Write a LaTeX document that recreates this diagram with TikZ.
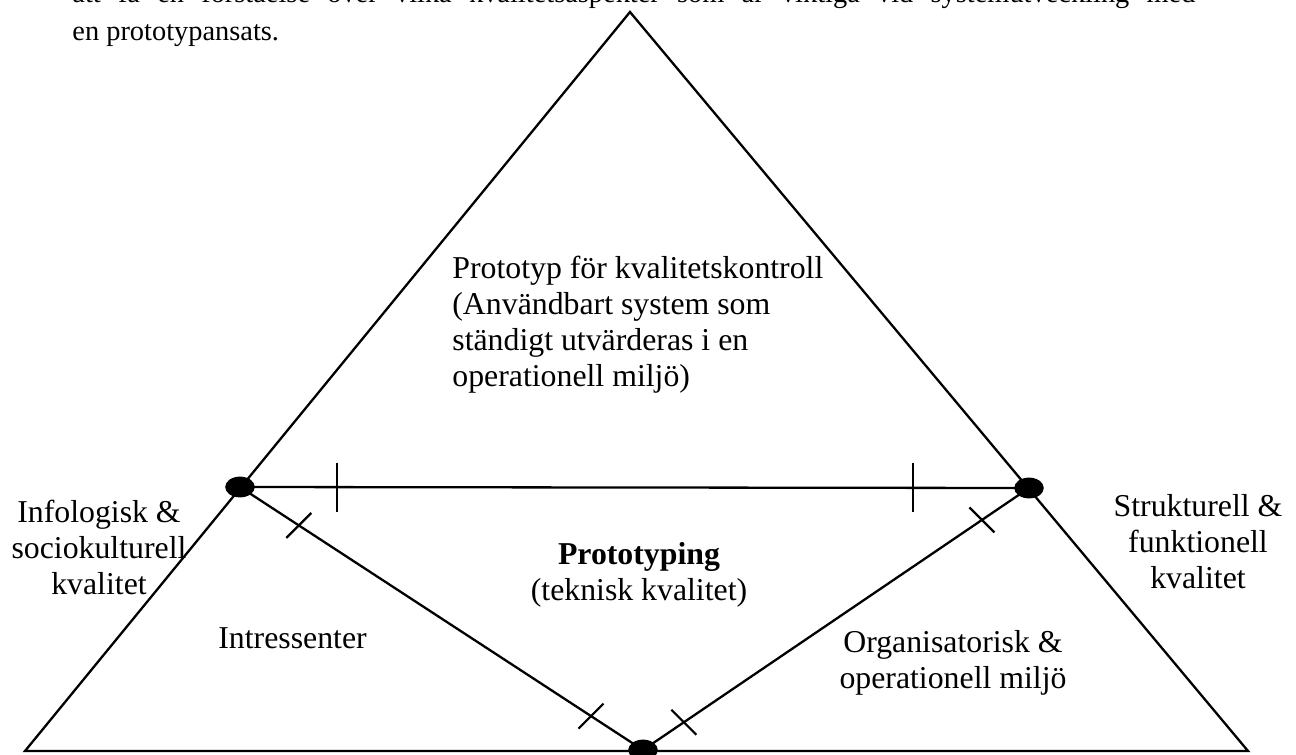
\documentclass[tikz,border=0pt]{standalone}
\usepackage{fontspec}
\setmainfont{Liberation Serif}
\usetikzlibrary{calc}
\begin{document}
\begin{tikzpicture}[x=0.5pt,y=-0.5pt,
  edge/.style={line width=1.15pt, line join=miter},
  tick/.style={line width=1.1pt},
  dotfill/.style={fill=black},
  lbl/.style={inner sep=0pt, font=\fontsize{15.9}{18}\selectfont},
  body/.style={inner sep=0pt, font=\fontsize{14.2}{17}\selectfont}]
  \useasboundingbox (0,0) rectangle (1296,755);

  % running text above the figure
  \node[body, anchor=base west] (para1) at (72,3)
    {\makebox[561.5pt][s]{att få en förståelse över vilka kvalitetsaspekter som är viktiga vid systemutveckling med}};
  \node[body, anchor=base west] (para2) at (72,40) {en prototypansats.};

  % outer triangle
  \coordinate (apex) at (630,12);
  \coordinate (BL) at (25,751);
  \coordinate (BR) at (1248,751);
  \draw[edge] (apex) -- (BR) -- (BL) -- cycle;

  % inner triangle corners
  \coordinate (L) at (240,487);
  \coordinate (R) at (1029,488);
  \coordinate (B) at (643,750);
  \draw[edge] (L) -- (R);
  \draw[edge] (L) -- (B);
  \draw[edge] (R) -- (B);

  % tick marks on the inner edges
  \draw[tick] ($(L)!0.123!(R)$) +(0,-24.5) -- +(0,24.5);
  \draw[tick] ($(L)!0.853!(R)$) +(0,-24.5) -- +(0,24.5);
  \draw[tick] ($(L)!0.146!(B)$) +(-12.5,12.5) -- +(12.5,-12.5);
  \draw[tick] ($(L)!0.871!(B)$) +(-12.5,12.5) -- +(12.5,-12.5);
  \draw[tick] ($(R)!0.122!(B)$) +(-12.5,-12.5) -- +(12.5,12.5);
  \draw[tick] ($(R)!0.894!(B)$) +(-12.5,-12.5) -- +(12.5,12.5);

  % corner dots
  \fill[dotfill] (L) ellipse [x radius=7.4pt, y radius=5.2pt];
  \fill[dotfill] (R) ellipse [x radius=7.4pt, y radius=5.2pt];
  \fill[dotfill] (B) ellipse [x radius=7.4pt, y radius=5.2pt];

  % labels (a multi-line node sits on the baseline of its last line)
  \node[lbl, anchor=base west, align=left] (qc) at (452,386)
    {Prototyp för kvalitetskontroll\\(Användbart system som\\ständigt utvärderas i en\\operationell miljö)};
  \node[lbl, anchor=base, align=center] (info) at (99,594)
    {Infologisk \&\\sociokulturell\\kvalitet};
  \node[lbl, anchor=base, align=center] (struct) at (1198,588)
    {Strukturell \&\\funktionell\\kvalitet};
  \node[lbl, anchor=base, align=center] (proto) at (639,600)
    {\textbf{Prototyping}\\(teknisk kvalitet)};
  \node[lbl, anchor=base west] (stake) at (218,648) {Intressenter};
  \node[lbl, anchor=base, align=center] (org) at (953,688)
    {Organisatorisk \&\\operationell miljö};
\end{tikzpicture}
\end{document}
